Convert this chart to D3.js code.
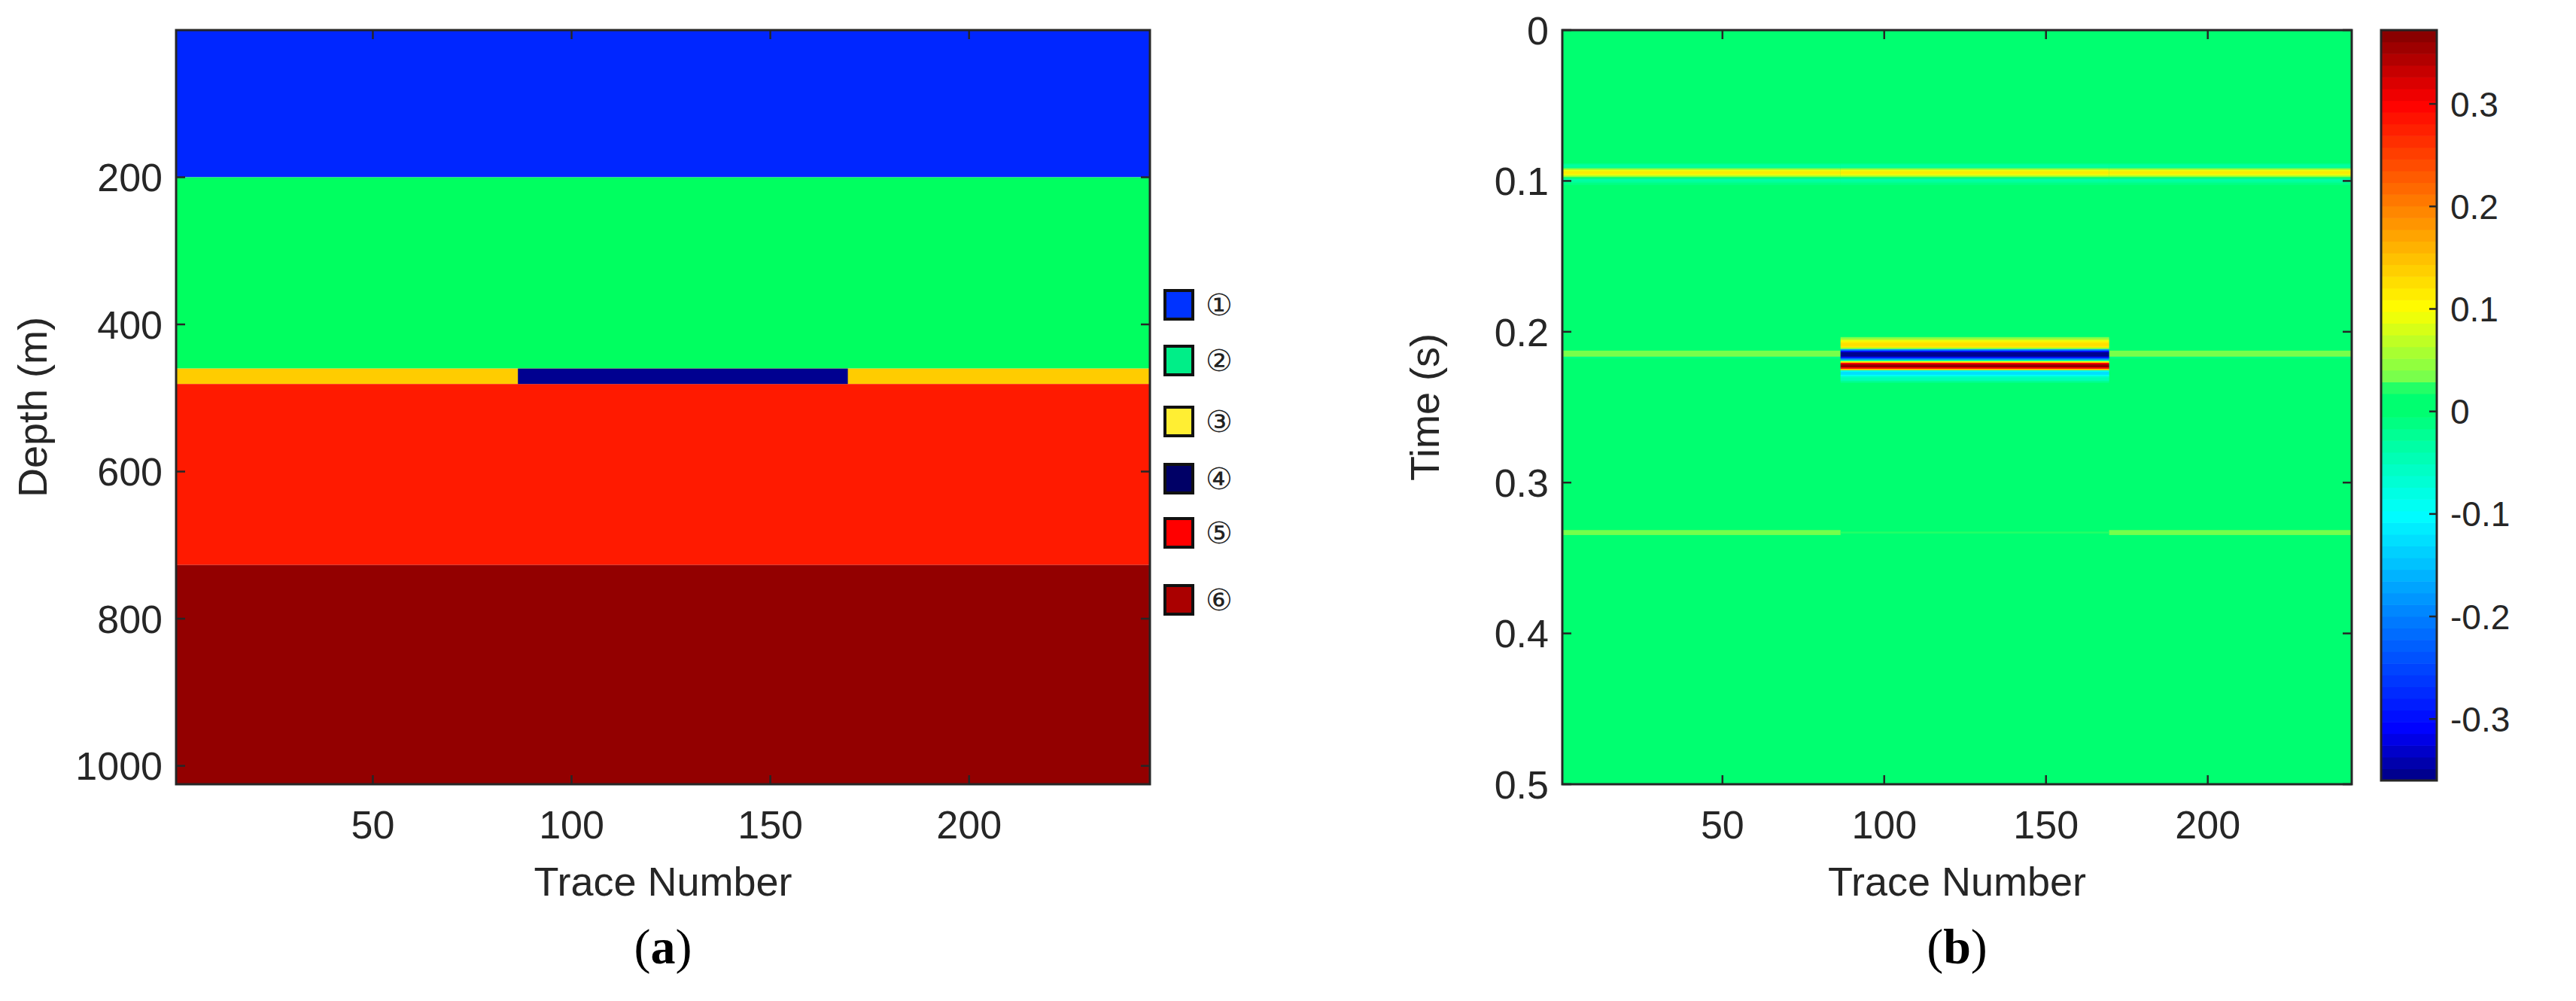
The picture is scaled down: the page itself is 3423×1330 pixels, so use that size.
<!DOCTYPE html>
<html><head><meta charset="utf-8">
<script src="https://cdn.jsdelivr.net/npm/d3@7"></script>
<style>body{margin:0;background:#fff}svg{display:block}</style>
</head><body>
<svg id="c" width="3423" height="1330"></svg>
<script>
// ---- data ----
const traceDomain = [0.5, 245.5];
const depthDomain = [0, 1025];
const timeDomain = [0, 0.5];
const xTicks = [50, 100, 150, 200];
const depthTicks = [200, 400, 600, 800, 1000];
const timeTicks = [0, 0.1, 0.2, 0.3, 0.4, 0.5];
const cbTicks = [-0.3, -0.2, -0.1, 0, 0.1, 0.2, 0.3];
const cbDomain = [-0.36, 0.372];
// layer model (depth, m)
const layerTop = [0, 200, 460, 481, 727];
const layerBottom = [200, 460, 481, 727, 1025];
const layerColor = ["#0026ff", "#00ff60", "#ffcc00", "#ff1a00", "#930000"];
const anomalyTraces = [86.5, 169.5];
const anomalyDepth = [460, 481];
const anomalyColor = "#000090";
// legend
const legendLabels = ["①", "②", "③", "④", "⑤", "⑥"];
const legendColors = ["#0033ff", "#00ee88", "#ffee33", "#000066", "#ff0000", "#aa0000"];
// seismic: background traces
const bgTimes = [0.089,0.090,0.091,0.092,0.093,0.094,0.095,0.096,0.097,0.098,0.099,0.100,0.101,0.102,0.213,0.214,0.215,0.216,0.217,0.332,0.333,0.334];
const bgAmps  = [-0.02,-0.03,-0.02,0.04,0.09,0.11,0.11,0.09,0.05,0.0,-0.03,-0.03,-0.02,-0.01,0.03,0.04,0.04,0.03,-0.01,0.03,0.035,0.03];
// seismic: anomaly traces (86.5-169.5)
const anTimes = [0.089,0.090,0.091,0.092,0.093,0.094,0.095,0.096,0.097,0.098,0.099,0.100,0.101,0.102,
  0.204,0.205,0.206,0.207,0.208,0.209,0.210,0.211,0.212,0.213,0.214,0.215,0.216,0.217,0.218,0.219,0.220,0.221,0.222,0.223,0.224,0.225,0.226,0.227,0.228,0.229,0.230,0.231,0.232,0.233,0.333];
const anAmps = [-0.02,-0.03,-0.02,0.04,0.09,0.11,0.11,0.09,0.05,0.0,-0.03,-0.03,-0.02,-0.01,
  0.04,0.06,0.09,0.12,0.13,0.13,0.12,0.05,-0.18,-0.3,-0.35,-0.36,-0.35,-0.3,-0.2,-0.05,0.1,0.3,0.36,0.37,0.3,0.15,-0.08,-0.12,-0.12,-0.09,-0.06,-0.05,-0.04,-0.02,0.025];
// colormap stops
const cmapVals = [-0.36,-0.31,-0.2,-0.1,-0.03,0,0.02,0.03,0.1,0.2,0.3,0.372];
const cmapCols = ["#000080","#0000ff","#0080ff","#00ffff","#00ffa0","#00ff70","#00ff70","#70ff50","#ffff00","#ff8000","#ff0000","#800000"];

// ---- drawing ----
const svg = d3.select("#c");
const FONT = "'Liberation Sans', Arial, sans-serif";
const cmap = d3.scaleLinear().domain(cmapVals).range(cmapCols).interpolate(d3.interpolateRgb).clamp(true);
const nLev = 64;
const quant = v => { const t = (v - cbDomain[0]) / (cbDomain[1] - cbDomain[0]); const k = Math.max(0, Math.min(nLev - 1, Math.floor(t * nLev))); return cmap(cbDomain[0] + (k + 0.5) / nLev * (cbDomain[1] - cbDomain[0])); };
const zeroCol = cmap(0);
const Y0 = 40, Y1 = 1042;

function frame(g, x, y, yTicks, yFmt) {
  const [x0, x1] = x.range(), [y0, y1] = y.range();
  g.append("rect").attr("x", x0).attr("y", y0).attr("width", x1 - x0).attr("height", y1 - y0)
    .attr("fill", "none").attr("stroke", "#262626").attr("stroke-width", 3);
  const tl = 12;
  xTicks.forEach(v => {
    g.append("line").attr("x1", x(v)).attr("x2", x(v)).attr("y1", y1).attr("y2", y1 - tl).attr("stroke", "#262626").attr("stroke-width", 2.5);
    g.append("line").attr("x1", x(v)).attr("x2", x(v)).attr("y1", y0).attr("y2", y0 + tl).attr("stroke", "#262626").attr("stroke-width", 2.5);
    g.append("text").attr("x", x(v)).attr("y", y1 + 72).attr("text-anchor", "middle").attr("font-family", FONT).attr("font-size", 52).attr("fill", "#262626").text(v);
  });
  yTicks.forEach(v => {
    g.append("line").attr("x1", x0).attr("x2", x0 + tl).attr("y1", y(v)).attr("y2", y(v)).attr("stroke", "#262626").attr("stroke-width", 2.5);
    g.append("line").attr("x1", x1).attr("x2", x1 - tl).attr("y1", y(v)).attr("y2", y(v)).attr("stroke", "#262626").attr("stroke-width", 2.5);
    g.append("text").attr("x", x0 - 18).attr("y", y(v)).attr("dy", "0.36em").attr("text-anchor", "end").attr("font-family", FONT).attr("font-size", 52).attr("fill", "#262626").text(yFmt(v));
  });
}
const lab = (g, cx, letter) => {
  const t = g.append("text").attr("x", cx).attr("y", 1280).attr("text-anchor", "middle").attr("font-family", "'Liberation Serif', 'Times New Roman', serif").attr("font-size", 66).attr("fill", "#000");
  t.append("tspan").text("(");
  t.append("tspan").attr("font-weight", "bold").text(letter);
  t.append("tspan").text(")");
};

// ---- panel (a) ----
const xa = d3.scaleLinear().domain(traceDomain).range([234, 1528]);
const ya = d3.scaleLinear().domain(depthDomain).range([Y0, Y1]);
const ga = svg.append("g");
ga.selectAll("rect.layer").data(layerTop).join("rect").attr("class", "layer")
  .attr("x", xa(traceDomain[0])).attr("width", xa(traceDomain[1]) - xa(traceDomain[0]))
  .attr("y", d => ya(d)).attr("height", (d, i) => ya(layerBottom[i]) - ya(d))
  .attr("fill", (d, i) => layerColor[i]);
ga.append("rect").attr("x", xa(anomalyTraces[0])).attr("width", xa(anomalyTraces[1]) - xa(anomalyTraces[0]))
  .attr("y", ya(anomalyDepth[0])).attr("height", ya(anomalyDepth[1]) - ya(anomalyDepth[0])).attr("fill", anomalyColor);
frame(ga, xa, ya, depthTicks, d => d);
ga.append("text").attr("transform", `translate(62,${(Y0 + Y1) / 2}) rotate(-90)`).attr("text-anchor", "middle")
  .attr("font-family", FONT).attr("font-size", 54).attr("fill", "#262626").text("Depth (m)");
ga.append("text").attr("x", (234 + 1528) / 2).attr("y", 1190).attr("text-anchor", "middle")
  .attr("font-family", FONT).attr("font-size", 54).attr("fill", "#262626").text("Trace Number");
lab(ga, (234 + 1528) / 2, "a");
// legend
const legY = [405, 479, 560, 636, 708, 797];
legendLabels.forEach((l, i) => {
  ga.append("rect").attr("x", 1548).attr("y", legY[i] - 19).attr("width", 37).attr("height", 38)
    .attr("fill", legendColors[i]).attr("stroke", "#111").attr("stroke-width", 4);
  ga.append("text").attr("x", 1620).attr("y", legY[i]).attr("dy", "0.36em").attr("text-anchor", "middle")
    .attr("font-family", "'DejaVu Sans', sans-serif").attr("font-size", 40).attr("fill", "#222").text(l);
});

// ---- panel (b) ----
const BX0 = 2076, BX1 = 3125;
const xb = d3.scaleLinear().domain([0.5, 244.5]).range([BX0, BX1]);
const yb = d3.scaleLinear().domain(timeDomain).range([Y0, Y1]);
const gb = svg.append("g");
const dt = 0.001;
gb.append("rect").attr("x", BX0).attr("y", Y0).attr("width", BX1 - BX0).attr("height", Y1 - Y0).attr("fill", zeroCol);
const segs = [[0.5, anomalyTraces[0]], [anomalyTraces[1], 244.5]];
segs.forEach(s => {
  gb.append("g").selectAll("rect").data(bgTimes).join("rect")
    .attr("x", xb(s[0])).attr("width", xb(s[1]) - xb(s[0]))
    .attr("y", d => yb(d - dt / 2)).attr("height", yb(dt) - yb(0) + 0.5)
    .attr("fill", (d, i) => quant(bgAmps[i]));
});
gb.append("g").selectAll("rect").data(anTimes).join("rect")
  .attr("x", xb(anomalyTraces[0])).attr("width", xb(anomalyTraces[1]) - xb(anomalyTraces[0]))
  .attr("y", d => yb(d - dt / 2)).attr("height", yb(dt) - yb(0) + 0.5)
  .attr("fill", (d, i) => quant(anAmps[i]));
frame(gb, xb, yb, timeTicks, d => d3.format("")(d));
gb.append("text").attr("transform", `translate(1912,${(Y0 + Y1) / 2}) rotate(-90)`).attr("text-anchor", "middle")
  .attr("font-family", FONT).attr("font-size", 54).attr("fill", "#262626").text("Time (s)");
gb.append("text").attr("x", (BX0 + BX1) / 2).attr("y", 1190).attr("text-anchor", "middle")
  .attr("font-family", FONT).attr("font-size", 54).attr("fill", "#262626").text("Trace Number");
lab(gb, (BX0 + BX1) / 2, "b");

// colorbar
const CB0 = 3164, CBW = 74;
const cby = d3.scaleLinear().domain(cbDomain).range([1037, 40]);
const levels = d3.range(nLev).map(k => cbDomain[0] + (k + 0.5) / nLev * (cbDomain[1] - cbDomain[0]));
const step = (cbDomain[1] - cbDomain[0]) / nLev;
gb.append("g").selectAll("rect").data(levels).join("rect")
  .attr("x", CB0).attr("width", CBW).attr("y", d => cby(d + step / 2)).attr("height", cby(0) - cby(step) + 0.6)
  .attr("fill", d => quant(d));
gb.append("rect").attr("x", CB0).attr("y", 40).attr("width", CBW).attr("height", 997).attr("fill", "none").attr("stroke", "#262626").attr("stroke-width", 3);
cbTicks.forEach(v => {
  gb.append("line").attr("x1", CB0 + CBW).attr("x2", CB0 + CBW - 10).attr("y1", cby(v)).attr("y2", cby(v)).attr("stroke", "#262626").attr("stroke-width", 2.5);
  gb.append("text").attr("x", CB0 + CBW + 18).attr("y", cby(v)).attr("dy", "0.36em").attr("font-family", FONT).attr("font-size", 46).attr("fill", "#262626").text(v === 0 ? "0" : d3.format(".1f")(v).replace("−", "-"));
});
</script>
</body></html>
